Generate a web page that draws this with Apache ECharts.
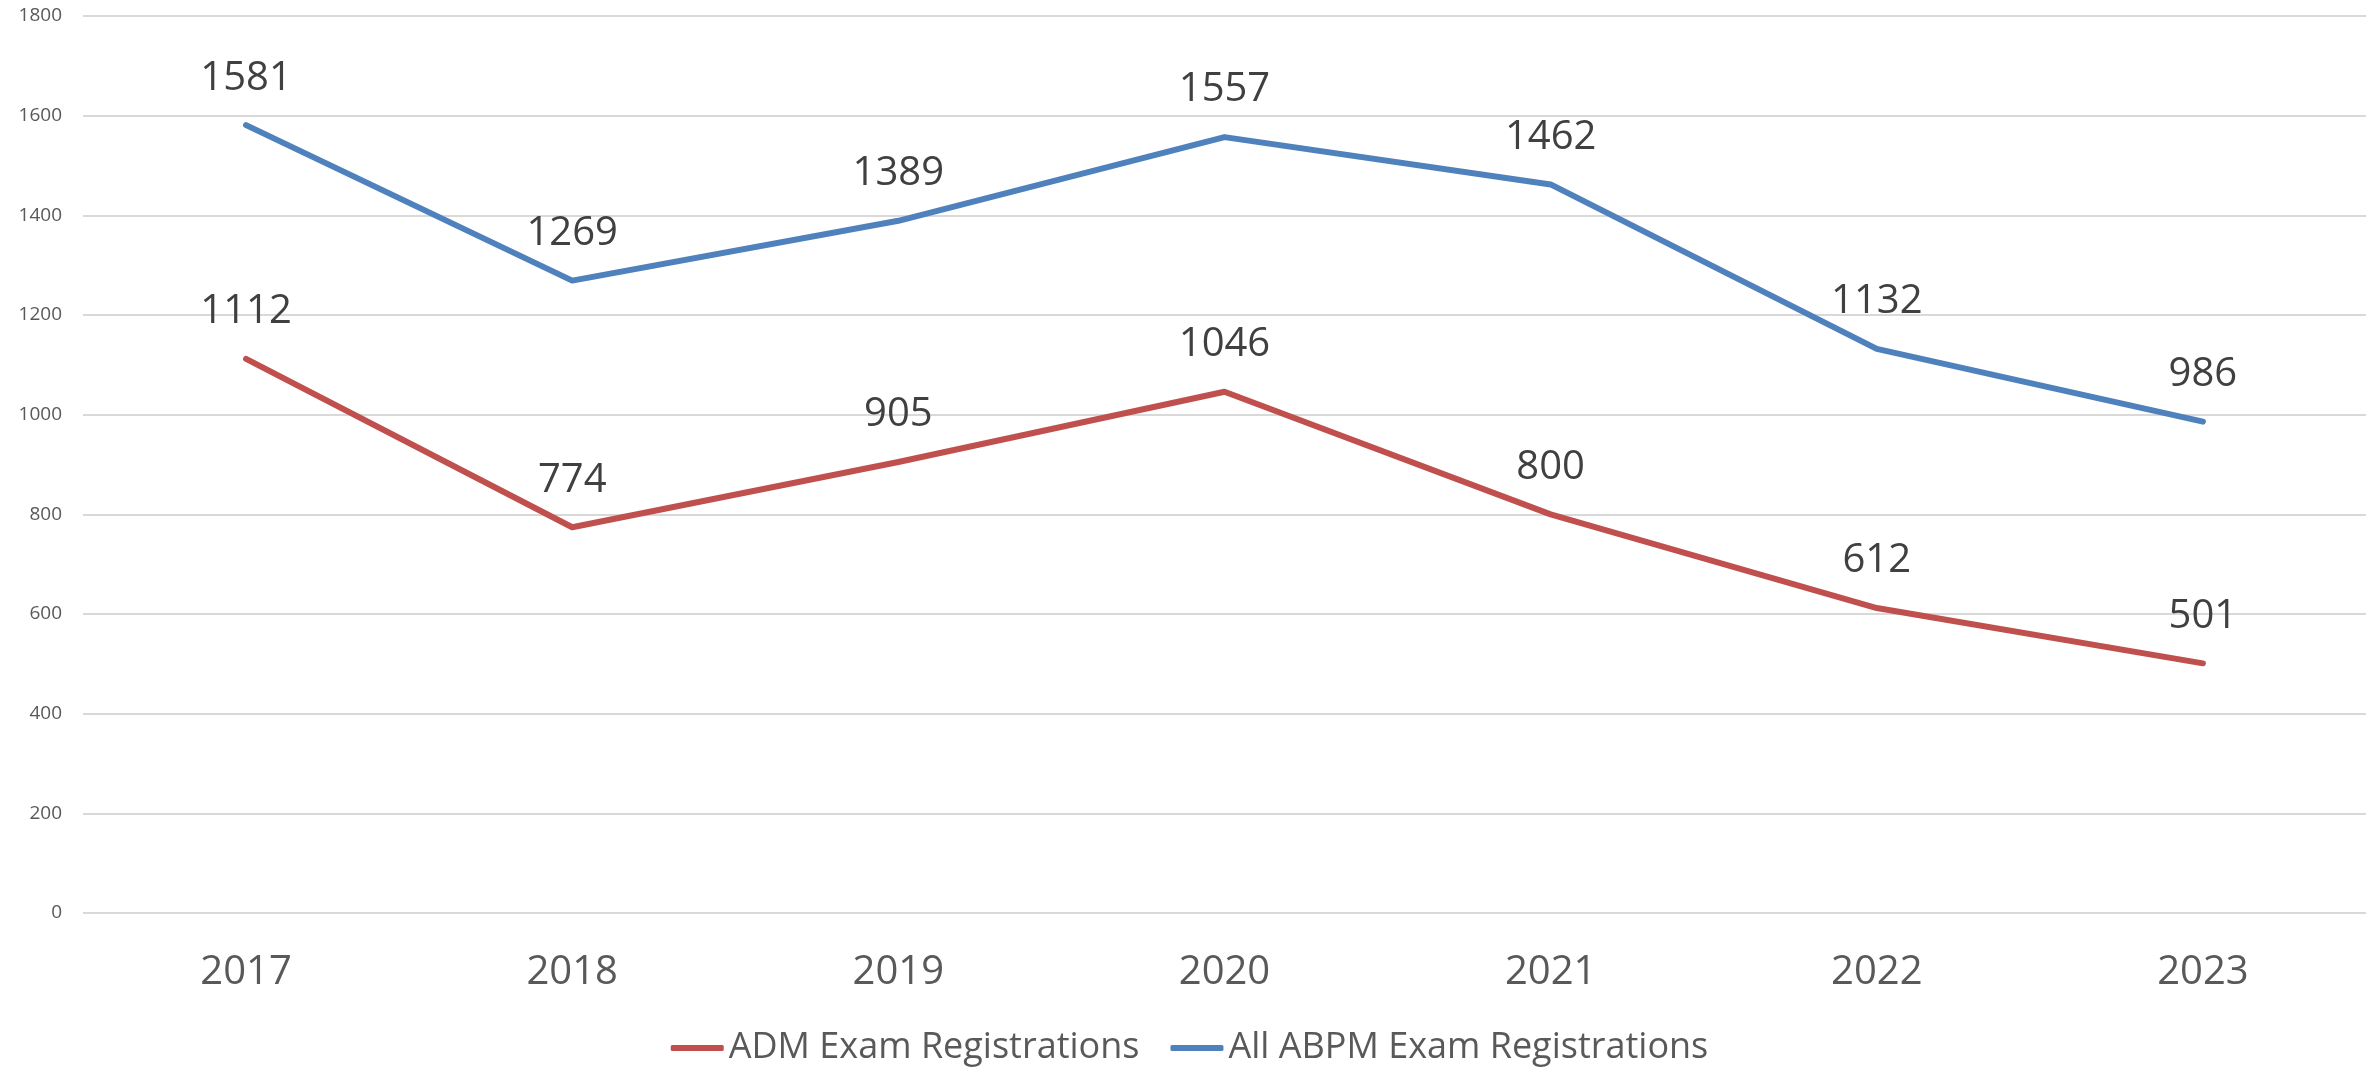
<!DOCTYPE html>
<html>
<head>
<meta charset="utf-8">
<script src="https://cdn.jsdelivr.net/npm/echarts@6/dist/echarts.min.js"></script>
<style>
html,body{margin:0;padding:0;background:#fff;}
#chart{width:2379px;height:1071px;}
</style>
</head>
<body>
<div id="chart"></div>
<script>
const years = ['2017','2018','2019','2020','2021','2022','2023'];
const admRegistrations = [1112, 774, 905, 1046, 800, 612, 501];
const abpmRegistrations = [1581, 1269, 1389, 1557, 1462, 1132, 986];
const seriesNames = ['ADM Exam Registrations', 'All ABPM Exam Registrations'];

const FONT = '"Open Sans", "Liberation Sans", sans-serif';
const chart = echarts.init(document.getElementById('chart'), null, {renderer: 'canvas'});

function lineSeries(name, data, color) {
  return {
    name: name,
    type: 'line',
    data: data,
    symbol: 'circle',
    symbolSize: 0,
    showSymbol: true,
    lineStyle: {color: color, width: 6, cap: 'round', join: 'round'},
    itemStyle: {color: color},
    label: {
      show: true,
      position: 'top',
      distance: 27,
      fontFamily: FONT,
      fontSize: 40,
      color: '#404040'
    },
    emphasis: {disabled: true},
    animation: false
  };
}

chart.setOption({
  backgroundColor: '#ffffff',
  animation: false,
  grid: {left: 83, right: 13, top: 16, bottom: 158},
  legend: {
    bottom: 0,
    left: 'center',
    icon: 'roundRect',
    itemWidth: 53,
    itemHeight: 6,
    itemGap: 31,
    textStyle: {fontFamily: FONT, fontSize: 36, color: '#595959'},
    data: seriesNames
  },
  xAxis: {
    type: 'category',
    data: years,
    boundaryGap: true,
    axisLine: {show: false},
    axisTick: {show: false},
    axisLabel: {fontFamily: FONT, fontSize: 40, color: '#595959', margin: 40}
  },
  yAxis: {
    type: 'value',
    min: 0,
    max: 1800,
    interval: 200,
    axisLine: {show: false},
    axisTick: {show: false},
    axisLabel: {fontFamily: FONT, fontSize: 19, color: '#595959', margin: 21,
      formatter: function (v) { return String(v); }},
    splitLine: {lineStyle: {color: '#d9d9d9', width: 2}}
  },
  series: [
    lineSeries(seriesNames[0], admRegistrations, '#C0504D'),
    lineSeries(seriesNames[1], abpmRegistrations, '#4F81BD')
  ]
});
</script>
</body>
</html>
